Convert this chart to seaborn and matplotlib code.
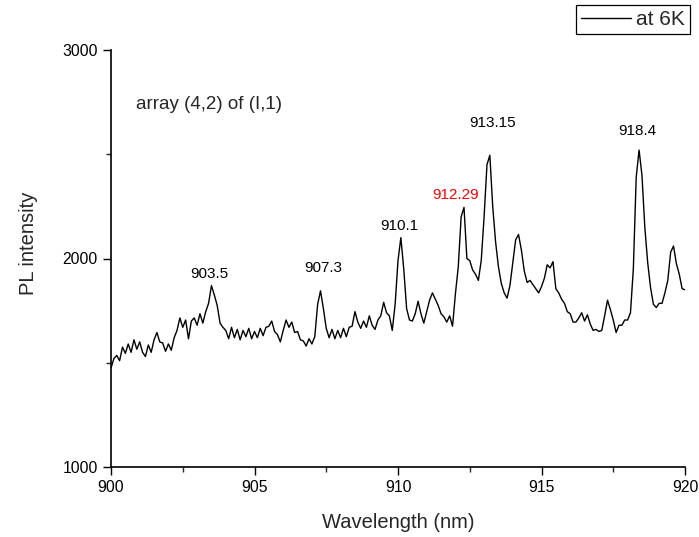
import numpy as np
import pandas as pd
import matplotlib
matplotlib.use('Agg')
import matplotlib.pyplot as plt
from matplotlib.ticker import MultipleLocator
import seaborn as sns

# wavelength grid (nm), 0.1 nm steps from 900 to 920
wavelength = np.round(np.arange(9000, 9201) / 10.0, 1)

# PL intensity, one row per nm
intensity = [
    1475, 1520, 1535, 1510, 1575, 1545, 1590, 1550, 1610, 1565,
    1600, 1550, 1530, 1585, 1550, 1610, 1645, 1600, 1595, 1555,
    1590, 1560, 1620, 1655, 1715, 1670, 1705, 1615, 1700, 1715,
    1680, 1735, 1690, 1745, 1785, 1870, 1825, 1775, 1690, 1670,
    1655, 1615, 1670, 1620, 1660, 1610, 1655, 1625, 1665, 1615,
    1650, 1620, 1665, 1630, 1670, 1675, 1700, 1650, 1635, 1600,
    1655, 1705, 1670, 1695, 1645, 1650, 1610, 1605, 1580, 1615,
    1590, 1625, 1780, 1845, 1760, 1665, 1620, 1660, 1615, 1655,
    1620, 1665, 1625, 1670, 1675, 1745, 1695, 1665, 1700, 1670,
    1725, 1680, 1660, 1705, 1725, 1790, 1740, 1725, 1655, 1780,
    1990, 2100, 1950, 1760, 1705, 1700, 1735, 1795, 1735, 1690,
    1745, 1800, 1835, 1805, 1775, 1735, 1720, 1695, 1725, 1675,
    1830, 1960, 2200, 2245, 2000, 1990, 1945, 1925, 1895, 1990,
    2200, 2450, 2495, 2250, 2080, 1960, 1880, 1835, 1810, 1870,
    1980, 2090, 2115, 2040, 1940, 1885, 1895, 1875, 1855, 1835,
    1865, 1905, 1970, 1955, 1985, 1855, 1835, 1805, 1785, 1745,
    1735, 1695, 1695, 1715, 1740, 1700, 1730, 1685, 1655, 1660,
    1650, 1655, 1725, 1800, 1755, 1705, 1645, 1680, 1680, 1705,
    1705, 1740, 1950, 2390, 2520, 2400, 2150, 1980, 1860, 1780,
    1765, 1785, 1785, 1835, 1895, 2030, 2060, 1975, 1925, 1855,
    1850,
]

# peak labels: text, x, y, colour
peak_labels = ['903.5', '907.3', '910.1', '912.29', '913.15', '918.4']
peak_x = [903.41, 907.39, 910.03, 912.02, 913.31, 918.33]
peak_y = [1926, 1954, 2156, 2305, 2650, 2611]
peak_colors = ['black', 'black', 'black', 'red', 'black', 'black']

df = pd.DataFrame({'wavelength': wavelength, 'intensity': intensity})

sns.set_style('ticks')
plt.rcParams['font.family'] = ['Liberation Sans', 'DejaVu Sans']
plt.rcParams['xtick.direction'] = 'out'
plt.rcParams['ytick.direction'] = 'out'

fig = plt.figure(figsize=(6.99, 5.37), dpi=100)
ax = fig.add_axes([111 / 699, 1 - 467 / 537, (685 - 111) / 699, (467 - 50) / 537])

sns.lineplot(data=df, x='wavelength', y='intensity', ax=ax,
             color='black', linewidth=1.0, label='at 6K', legend=False)

ax.set_xlim(900, 920)
ax.set_ylim(1000, 3000)
ax.xaxis.set_major_locator(MultipleLocator(5))
ax.xaxis.set_minor_locator(MultipleLocator(2.5))
ax.yaxis.set_major_locator(MultipleLocator(1000))
ax.yaxis.set_minor_locator(MultipleLocator(500))
ax.tick_params(which='major', length=6, width=1, labelsize=11.3, colors='black')
ax.tick_params(which='minor', length=3.5, width=1)
for side in ['left', 'bottom']:
    ax.spines[side].set_linewidth(1.2)
    ax.spines[side].set_color('black')
sns.despine(ax=ax)

ax.set_xlabel('Wavelength (nm)', fontsize=14.5, labelpad=13)
ax.set_ylabel('PL intensity', fontsize=14.5)
ax.yaxis.set_label_coords(-0.128, 0.537)

for txt, x, y, c in zip(peak_labels, peak_x, peak_y, peak_colors):
    ax.text(x, y, txt, ha='center', va='center', fontsize=11, color=c)

ax.text(900.87, 2741, 'array (4,2) of (I,1)', ha='left', va='center', fontsize=13.5)

handles, labels = ax.get_lines(), ['at 6K']
leg = fig.legend(handles[:1], labels, loc='upper right',
                 bbox_to_anchor=(690 / 699, 1 - 5 / 537), fontsize=15,
                 frameon=True, fancybox=False, framealpha=1, edgecolor='black',
                 borderaxespad=0, handlelength=2.4, handletextpad=0.25,
                 borderpad=0.25)
leg.get_frame().set_linewidth(0.9)

fig.savefig('out.png', dpi=100)
